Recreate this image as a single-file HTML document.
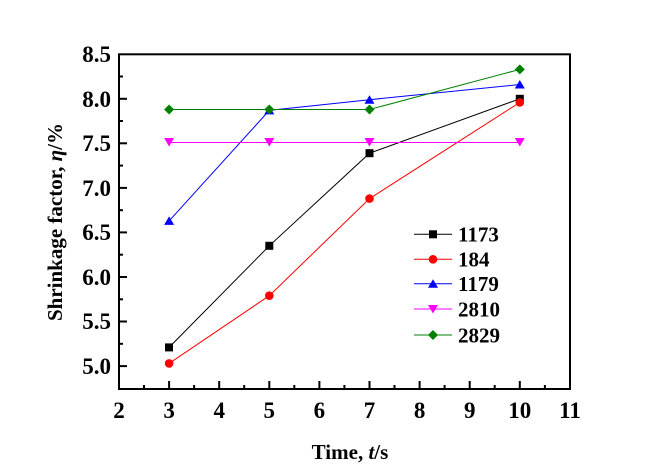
<!DOCTYPE html>
<html><head><meta charset="utf-8"><style>
html,body{margin:0;padding:0;background:#fff;}
svg{display:block;}
svg text{font-family:"Liberation Serif","Times New Roman","DejaVu Serif",serif !important;font-weight:bold;fill:#000;}
</style></head><body>
<svg width="664" height="469" viewBox="0 0 664 469" xmlns="http://www.w3.org/2000/svg" font-family="Liberation Serif, Times New Roman, serif" font-weight="bold">
<rect x="119" y="54.3" width="451" height="334.7" fill="none" stroke="#000" stroke-width="2"/>
<g stroke="#000" stroke-width="2">
<line x1="119" x2="127" y1="366.1" y2="366.1"/><line x1="119" x2="127" y1="321.5" y2="321.5"/>
<line x1="119" x2="127" y1="277" y2="277"/><line x1="119" x2="127" y1="232.4" y2="232.4"/>
<line x1="119" x2="127" y1="187.9" y2="187.9"/><line x1="119" x2="127" y1="143.3" y2="143.3"/>
<line x1="119" x2="127" y1="98.8" y2="98.8"/>
<line x1="119" x2="123" y1="343.8" y2="343.8"/><line x1="119" x2="123" y1="299.3" y2="299.3"/>
<line x1="119" x2="123" y1="254.7" y2="254.7"/><line x1="119" x2="123" y1="210.2" y2="210.2"/>
<line x1="119" x2="123" y1="165.6" y2="165.6"/><line x1="119" x2="123" y1="121" y2="121"/>
<line x1="119" x2="123" y1="76.5" y2="76.5"/>
<line x1="169.1" x2="169.1" y1="389" y2="381"/><line x1="219.2" x2="219.2" y1="389" y2="381"/>
<line x1="269.3" x2="269.3" y1="389" y2="381"/><line x1="319.4" x2="319.4" y1="389" y2="381"/>
<line x1="369.5" x2="369.5" y1="389" y2="381"/><line x1="419.6" x2="419.6" y1="389" y2="381"/>
<line x1="469.7" x2="469.7" y1="389" y2="381"/><line x1="519.8" x2="519.8" y1="389" y2="381"/>
<line x1="144" x2="144" y1="389" y2="385"/><line x1="194.1" x2="194.1" y1="389" y2="385"/>
<line x1="244.2" x2="244.2" y1="389" y2="385"/><line x1="294.3" x2="294.3" y1="389" y2="385"/>
<line x1="344.4" x2="344.4" y1="389" y2="385"/><line x1="394.5" x2="394.5" y1="389" y2="385"/>
<line x1="444.6" x2="444.6" y1="389" y2="385"/><line x1="494.7" x2="494.7" y1="389" y2="385"/>
<line x1="544.9" x2="544.9" y1="389" y2="385"/>
</g>
<g font-size="23" text-anchor="end">
<text x="111" y="374">5.0</text><text x="111" y="329">5.5</text><text x="111" y="285">6.0</text>
<text x="111" y="240">6.5</text><text x="111" y="196">7.0</text><text x="111" y="151">7.5</text>
<text x="111" y="107">8.0</text><text x="111" y="62">8.5</text>
</g>
<g font-size="23" text-anchor="middle">
<text x="119" y="418">2</text><text x="169.1" y="418">3</text><text x="219.2" y="418">4</text>
<text x="269.3" y="418">5</text><text x="319.4" y="418">6</text><text x="369.5" y="418">7</text>
<text x="419.6" y="418">8</text><text x="469.7" y="418">9</text><text x="519.8" y="418">10</text>
<text x="570" y="418">11</text>
</g>
<text x="350" y="459" font-size="21" text-anchor="middle">Time, <tspan font-style="italic">t</tspan>/s</text>
<text transform="translate(62,222) rotate(-90)" font-size="21" text-anchor="middle">Shrinkage factor, <tspan font-style="italic">η</tspan>/%</text>
<polyline points="169.1,347.4 269.3,245.8 369.5,153.2 519.8,98.8" fill="none" stroke="#000" stroke-width="1"/>
<polyline points="169.1,363.4 269.3,295.7 369.5,198.6 519.8,102.4" fill="none" stroke="#f00" stroke-width="1"/>
<polyline points="169.1,220.9 269.3,110.4 369.5,99.7 519.8,84.5" fill="none" stroke="#00f" stroke-width="1"/>
<polyline points="169.1,142.5 519.8,142.5" fill="none" stroke="#f0f" stroke-width="1"/>
<polyline points="169.1,109.5 269.3,109.5 369.5,109.5 519.8,69.4" fill="none" stroke="#008000" stroke-width="1"/>
<g fill="#000"><rect x="165" y="343.4" width="8" height="8"/><rect x="265.3" y="241.8" width="8" height="8"/><rect x="365.5" y="149.2" width="8" height="8"/><rect x="515.8" y="94.8" width="8" height="8"/></g>
<g fill="#f00"><circle cx="169.1" cy="363.4" r="4.3"/><circle cx="269.3" cy="295.7" r="4.3"/><circle cx="369.5" cy="198.6" r="4.3"/><circle cx="519.8" cy="102.4" r="4.3"/></g>
<g fill="#00f"><path d="M169.1 216.4l5 8.5h-10z"/><path d="M269.3 105.9l5 8.5h-10z"/><path d="M369.5 95.2l5 8.5h-10z"/><path d="M519.8 80l5 8.5h-10z"/></g>
<g fill="#f0f"><path d="M164.1 138l10 0l-5 8.5z"/><path d="M264.3 138l10 0l-5 8.5z"/><path d="M364.5 138l10 0l-5 8.5z"/><path d="M514.8 138l10 0l-5 8.5z"/></g>
<g fill="#008000"><path d="M169.1 104.5l5 5l-5 5l-5-5z"/><path d="M269.3 104.5l5 5l-5 5l-5-5z"/><path d="M369.5 104.5l5 5l-5 5l-5-5z"/><path d="M519.8 64.4l5 5l-5 5l-5-5z"/></g>
<line x1="414" x2="452" y1="234.3" y2="234.3" stroke="#000"/><rect x="429" y="230.3" width="8" height="8" fill="#000"/>
<line x1="414" x2="452" y1="259.3" y2="259.3" stroke="#f00"/><circle cx="433" cy="259.3" r="4.3" fill="#f00"/>
<line x1="414" x2="452" y1="283.7" y2="283.7" stroke="#00f"/><path d="M433 279.2l5 8.5h-10z" fill="#00f"/>
<line x1="414" x2="452" y1="309" y2="309" stroke="#f0f"/><path d="M428 305l10 0l-5 8.5z" fill="#f0f"/>
<line x1="414" x2="452" y1="335" y2="335" stroke="#008000"/><path d="M433 330l5 5l-5 5l-5-5z" fill="#008000"/>
<g font-size="21">
<text x="458" y="241.5">1173</text><text x="458" y="266.5">184</text><text x="458" y="291">1179</text>
<text x="458" y="316.5">2810</text><text x="458" y="342.5">2829</text>
</g>
</svg>
</body></html>
